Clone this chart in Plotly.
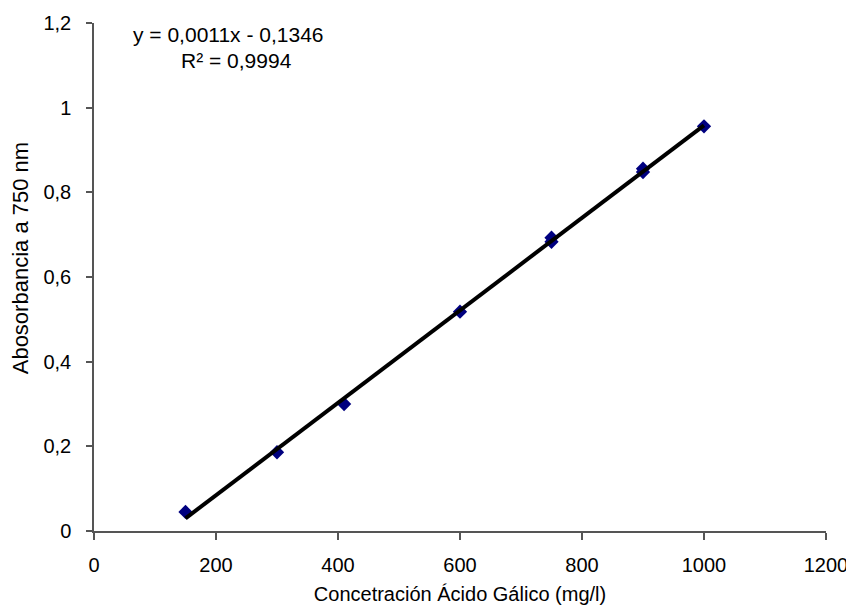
import numpy as np
import plotly.graph_objects as go

conc = [150, 300, 410, 600, 750, 750, 900, 900, 1000]
absorb = [0.045, 0.186, 0.300, 0.518, 0.683, 0.693, 0.848, 0.856, 0.956]
x_ticks = [0, 200, 400, 600, 800, 1000, 1200]
y_ticks = [0, 0.2, 0.4, 0.6, 0.8, 1.0, 1.2]
eq_text = "y = 0,0011x - 0,1346"
r2_text = "R² = 0,9994"
x_title = "Concetración Ácido Gálico (mg/l)"
y_title = "Abosorbancia a 750 nm"

slope, intercept = np.polyfit(conc, absorb, 1)
xl = [min(conc), max(conc)]
yl = [slope * v + intercept for v in xl]

fig = go.Figure()
fig.add_trace(go.Scatter(x=conc, y=absorb, mode="markers",
                         marker=dict(symbol="diamond", size=11, color="#00007f"),
                         showlegend=False))
fig.add_trace(go.Scatter(x=xl, y=yl, mode="lines",
                         line=dict(color="black", width=4), showlegend=False))

font = "Liberation Sans, Arial, sans-serif"
# page body has an 8px margin: figure sized/offset so the plot area lands
# on the reference pixels
fig.update_layout(
    width=846, height=604,
    margin=dict(l=86, r=28, t=15, b=81),
    paper_bgcolor="white", plot_bgcolor="white",
    separators=", ",
    font=dict(family=font, color="black"),
    xaxis=dict(range=[0, 1200], tickvals=x_ticks, showgrid=False, zeroline=False,
               automargin=False,
               showline=True, linecolor="#555555", linewidth=1.5,
               ticks="outside", ticklen=7, tickcolor="#555555", tickwidth=1.5,
               ticklabelstandoff=8,
               tickfont=dict(size=20, family=font),
               title=dict(text=x_title, font=dict(size=20, family=font), standoff=12)),
    yaxis=dict(range=[0, 1.2], tickvals=y_ticks, showgrid=False, zeroline=False,
               automargin=False,
               showline=True, linecolor="#555555", linewidth=1.5,
               ticks="outside", ticklen=6, tickcolor="#555555", tickwidth=1.5,
               ticklabelstandoff=11,
               tickfont=dict(size=20, family=font)),
)
fig.add_annotation(xref="paper", yref="paper", x=-0.101, y=0.537, text=y_title,
                   xanchor="center", yanchor="middle",
                   textangle=-90, showarrow=False, font=dict(size=22, family=font))
fig.add_annotation(xref="x", yref="y", x=221, y=1.173, text=eq_text,
                   xanchor="center", yanchor="middle",
                   showarrow=False, font=dict(size=21, family=font))
fig.add_annotation(xref="x", yref="y", x=233, y=1.111, text=r2_text,
                   xanchor="center", yanchor="middle",
                   showarrow=False, font=dict(size=21, family=font))

fig.write_html("out.html")
